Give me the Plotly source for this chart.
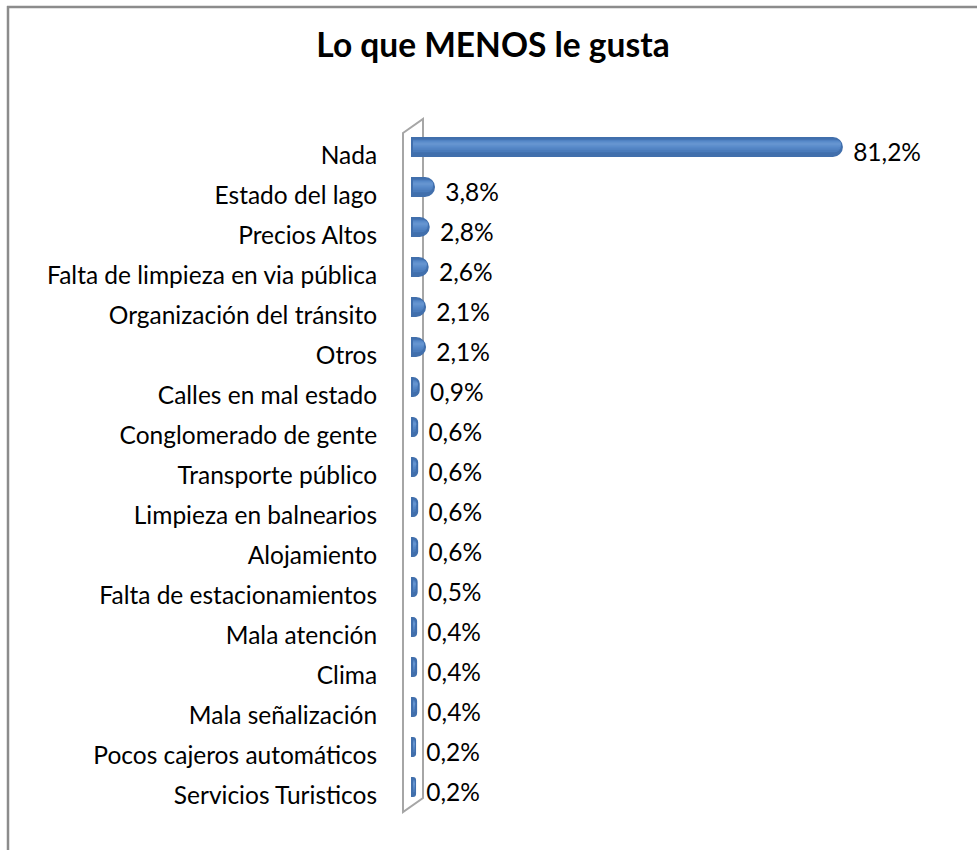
import plotly.graph_objects as go

categories = [
    "Nada", "Estado del lago", "Precios Altos", "Falta de limpieza en via pública",
    "Organización del tránsito", "Otros", "Calles en mal estado", "Conglomerado de gente",
    "Transporte público", "Limpieza en balnearios", "Alojamiento",
    "Falta de estacionamientos", "Mala atención", "Clima", "Mala señalización",
    "Pocos cajeros automáticos", "Servicios Turisticos",
]
values = [81.2, 3.8, 2.8, 2.6, 2.1, 2.1, 0.9, 0.6, 0.6, 0.6, 0.6, 0.5, 0.4, 0.4, 0.4, 0.2, 0.2]
labels = [f"{v:.1f}%".replace(".", ",") for v in values]

W, H = 977, 850
L, R, T, B = 403, 17, 135, 35
PW, PH = W - L - R, H - T - B
zero_px, px_per = 413, 5.27
x0 = -(zero_px - L) / px_per
x1 = x0 + PW / px_per

def px(x):
    return (x - L) / PW

def py(y):
    return 1 - (y - T) / PH

font = "Lato, 'Open Sans', sans-serif"

fig = go.Figure()
# cylinder shading layers: (width, offset, color)
layers = [
    (0.40, -0.400, "#416FAC"),
    (0.32, -0.390, "#4A7BBB"),
    (0.24, -0.370, "#5384C4"),
    (0.16, -0.345, "#5B8CCB"),
    (0.08, -0.315, "#6594D0"),
]
for i, (w, off, col) in enumerate(layers):
    fig.add_trace(go.Bar(
        y=categories, x=values, orientation="h", width=w, offset=off,
        marker=dict(color=col, line=dict(color=col, width=4 if i == 0 else 0),
                    cornerradius="50%"),
        hoverinfo="skip", showlegend=False,
    ))
fig.add_trace(go.Scatter(
    y=categories, x=values, mode="markers+text", text=labels, textposition="middle right",
    marker=dict(size=18, opacity=0),
    textfont=dict(family=font, size=24.5, color="#000000"),
    hoverinfo="skip", showlegend=False, cliponaxis=False,
))

line_col = "#8C8C8C"
wall_col = "#A6A6A6"
shapes = [
    dict(type="line", xref="paper", yref="paper", x0=px(8), y0=py(6), x1=px(8), y1=py(851),
         line=dict(color=line_col, width=2.5), layer="below"),
    dict(type="line", xref="paper", yref="paper", x0=px(7), y0=py(7), x1=px(978), y1=py(7),
         line=dict(color=line_col, width=2.5), layer="below"),
    dict(type="path", xref="paper", yref="paper",
         path=(f"M {px(403)} {py(133)} L {px(423)} {py(119)} L {px(423)} {py(798)} "
               f"L {px(403)} {py(812)} Z"),
         line=dict(color=wall_col, width=2), fillcolor="rgba(0,0,0,0)", layer="below"),
]

fig.update_layout(
    width=W, height=H, margin=dict(l=L, r=R, t=T, b=B, autoexpand=False),
    paper_bgcolor="white", plot_bgcolor="white",
    barmode="overlay",
    title=dict(text="<b>Lo que MENOS le gusta</b>", x=493 / W, xanchor="center",
               y=1 - 45 / H, yanchor="middle",
               font=dict(family=font, size=33.5, color="#000000")),
    xaxis=dict(range=[x0, x1], showgrid=False, zeroline=False, showticklabels=False,
               showline=False, ticks=""),
    yaxis=dict(categoryorder="array", categoryarray=categories, range=[16.5, -0.5],
               showgrid=False, zeroline=False, showline=False,
               ticks="outside", ticklen=20, tickcolor="rgba(0,0,0,0)",
               tickfont=dict(family=font, size=24.5, color="#000000")),
    shapes=shapes,
)

fig.write_html("out.html", config={"displayModeBar": False},
               post_script="document.body.style.margin='0';document.body.style.overflow='hidden';")
